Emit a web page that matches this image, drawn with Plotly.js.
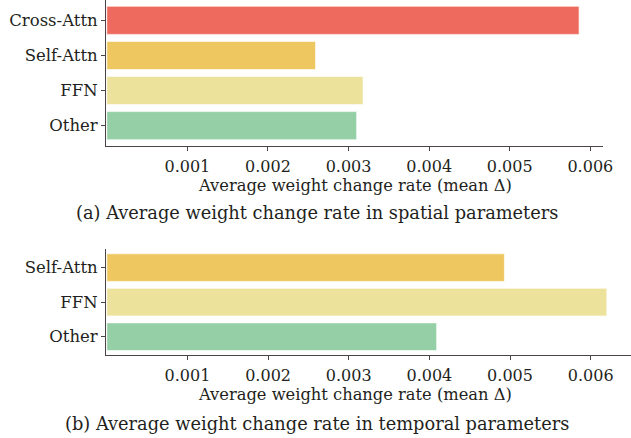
<!DOCTYPE html>
<html><head><meta charset="utf-8">
<script src="https://cdn.plot.ly/plotly-3.0.1.min.js"></script>
<style>html,body{margin:0;padding:0;background:#fff}#chart{width:631px;height:438px}</style>
</head><body><div id="chart"></div>
<script>
const spatialCats = ["Cross-Attn", "Self-Attn", "FFN", "Other"];
const spatialVals = [0.00586, 0.00259, 0.00318, 0.00310];
const spatialColors = ["#EE6A5F", "#EEC760", "#ECE29B", "#94CFA5"];
const temporalCats = ["Self-Attn", "FFN", "Other"];
const temporalVals = [0.00493, 0.00620, 0.00409];
const temporalColors = ["#EEC760", "#ECE29B", "#94CFA5"];
const tickVals = [0.001, 0.002, 0.003, 0.004, 0.005, 0.006];
const tickText = ["0.001", "0.002", "0.003", "0.004", "0.005", "0.006"];
const axisTitle = "Average weight change rate (mean Δ)";
const captionA = "(a) Average weight change rate in spatial parameters";
const captionB = "(b) Average weight change rate in temporal parameters";

const W = 631, H = 438;
const fy = px => 1 - px / H;
const fx = px => px / W;
const font = "DejaVu Serif";
const txt = "#231F20";
const axc = "#4a4446";

const traces = [
  {type: "bar", orientation: "h", x: spatialVals, y: spatialCats,
   marker: {color: spatialColors, line: {color: "rgba(255,255,255,0.6)", width: 1}},
   width: 0.8, xaxis: "x", yaxis: "y", hoverinfo: "skip"},
  {type: "bar", orientation: "h", x: temporalVals, y: temporalCats,
   marker: {color: temporalColors, line: {color: "rgba(255,255,255,0.6)", width: 1}},
   width: 0.8, xaxis: "x2", yaxis: "y2", hoverinfo: "skip"}
];

const xBase = {
  tickvals: tickVals, ticktext: tickText, ticks: "outside", ticklen: 4, tickwidth: 1,
  tickcolor: axc, showline: true, linecolor: axc, linewidth: 1, showgrid: false,
  zeroline: false, tickfont: {family: font, size: 16, color: txt}, ticklabelstandoff: 2
};
const yBase = {
  type: "category", autorange: false, ticks: "outside", ticklen: 4, tickwidth: 1,
  tickcolor: axc, showline: true, linecolor: axc, linewidth: 1, showgrid: false,
  zeroline: false, tickfont: {family: font, size: 16.5, color: txt}
};

const layout = {
  width: W, height: H, margin: {l: 0, r: 0, t: 0, b: 0},
  paper_bgcolor: "#fff", plot_bgcolor: "#fff", showlegend: false,
  font: {family: font, color: txt},
  xaxis: Object.assign({}, xBase, {domain: [fx(106), fx(603)], range: [-0.00001, 0.006157], anchor: "y"}),
  yaxis: Object.assign({}, yBase, {domain: [fy(146), 1], range: [3.58, -0.58], anchor: "x"}),
  xaxis2: Object.assign({}, xBase, {domain: [fx(106), 1], range: [-0.00001, 0.0065], anchor: "y2"}),
  yaxis2: Object.assign({}, yBase, {domain: [fy(355), fy(249.3)], range: [2.53, -0.53], anchor: "x2"}),
  annotations: [
    {text: axisTitle, xref: "paper", yref: "paper", x: fx(355), y: fy(185), showarrow: false,
     xanchor: "center", yanchor: "middle", font: {family: font, size: 16.3, color: txt}},
    {text: captionA, xref: "paper", yref: "paper", x: fx(317), y: fy(213), showarrow: false,
     xanchor: "center", yanchor: "middle", font: {family: font, size: 17.8, color: txt}},
    {text: axisTitle, xref: "paper", yref: "paper", x: fx(355), y: fy(394), showarrow: false,
     xanchor: "center", yanchor: "middle", font: {family: font, size: 16.3, color: txt}},
    {text: captionB, xref: "paper", yref: "paper", x: fx(317), y: fy(423), showarrow: false,
     xanchor: "center", yanchor: "middle", font: {family: font, size: 17.8, color: txt}}
  ]
};

Plotly.newPlot("chart", traces, layout, {displayModeBar: false, staticPlot: true});
</script></body></html>
